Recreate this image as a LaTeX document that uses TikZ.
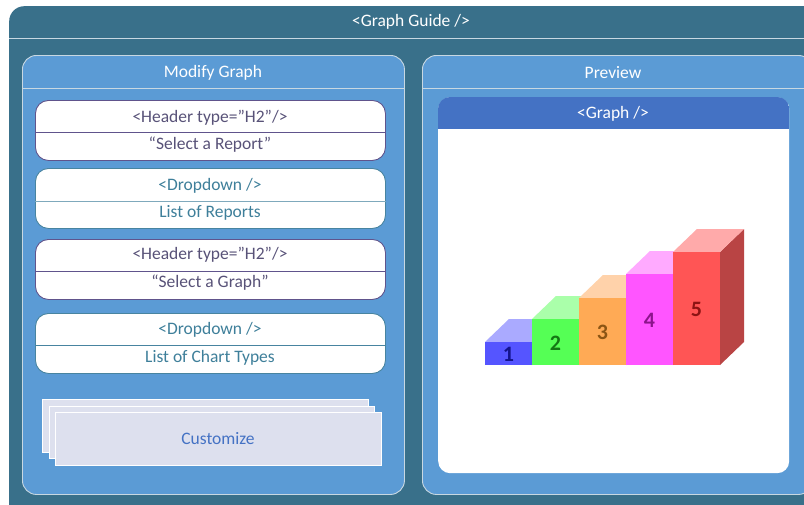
\documentclass[tikz,border=0pt]{standalone}
\usepackage{fontspec}
\setmainfont{Carlito}
\usepackage{tikz}
\usetikzlibrary{positioning,calc}
\definecolor{guideteal}{RGB}{57,112,138}
\definecolor{panelblue}{RGB}{91,155,213}
\definecolor{graphblue}{RGB}{68,114,196}
\definecolor{rulegray}{RGB}{200,216,226}
\definecolor{hdrpurple}{RGB}{96,84,140}
\definecolor{hdrtext}{RGB}{88,82,120}
\definecolor{ddteal}{RGB}{72,132,160}
\definecolor{ddtext}{RGB}{62,127,154}
\definecolor{custfill}{RGB}{221,224,238}
\definecolor{bluefront}{RGB}{85,85,255}
\definecolor{bluetop}{RGB}{170,170,255}
\definecolor{bluenum}{RGB}{20,20,140}
\definecolor{greenfront}{RGB}{85,255,85}
\definecolor{greentop}{RGB}{170,255,170}
\definecolor{greennum}{RGB}{20,120,20}
\definecolor{orangefront}{RGB}{255,170,85}
\definecolor{orangetop}{RGB}{255,210,170}
\definecolor{orangenum}{RGB}{140,85,20}
\definecolor{pinkfront}{RGB}{255,85,255}
\definecolor{pinktop}{RGB}{255,170,255}
\definecolor{pinknum}{RGB}{140,20,140}
\definecolor{redfront}{RGB}{255,85,85}
\definecolor{redtop}{RGB}{255,170,170}
\definecolor{redside}{RGB}{185,68,68}
\definecolor{rednum}{RGB}{140,20,20}

\tikzset{
  frame/.style={rectangle, rounded corners=15pt, fill=guideteal, inner sep=0pt, anchor=north west},
  panel/.style={rectangle, rounded corners=14pt, fill=panelblue, draw=rulegray, line width=0.9pt, inner sep=0pt, anchor=north west},
  headtext/.style={text=white, font=\fontsize{17.5}{20}\selectfont, inner sep=0pt, yshift=-1pt},
  widget/.style={rectangle, rounded corners=13pt, fill=white, line width=0.9pt, inner sep=0pt, minimum width=350, minimum height=60, anchor=north west},
  wtext/.style={font=\fontsize{17.5}{20}\selectfont, inner sep=0pt, yshift=-1pt},
  sheet/.style={rectangle, fill=custfill, draw=white, line width=0.8pt, inner sep=0pt, anchor=north west},
  barnum/.style={font=\fontsize{22}{25}\selectfont\bfseries, inner sep=0pt}
}

\begin{document}
\begin{tikzpicture}[x=1pt, y=-1pt]
    \useasboundingbox (0,0) rectangle (804,504);
    \clip (0,0) rectangle (804,504);
    \fill[white] (0,0) rectangle (804,504);

    % Outer frame and title bar
    \node[frame, minimum width=840, minimum height=540] (guide) at (9,6) {};
    \node[headtext] (guidetitle) at (411,21) {<Graph Guide />};
    \draw[rulegray, line width=0.9pt] (guide.west |- 0,38) -- (804,38);

    % Modify Graph panel
    \node[panel, minimum width=382, minimum height=439] (modify) at (22,55) {};
    \node[headtext] (modifytitle) at (213,72) {Modify Graph};
    \draw[rulegray, line width=0.9pt] (modify.west |- 0,88) -- (modify.east |- 0,88);

    % Preview panel
    \node[panel, minimum width=390, minimum height=439] (preview) at (422,55) {};
    \node[headtext] (previewtitle) at (613,72) {Preview};
    \draw[rulegray, line width=0.9pt] (preview.west |- 0,88) -- (804,88);

    % Widgets
    \node[widget, draw=hdrpurple] (hdrreport) at (35,100) {};
    \draw[hdrpurple, line width=0.9pt] (hdrreport.west |- 0,132) -- (hdrreport.east |- 0,132);
    \node[wtext, text=hdrtext] (hdrreporttop) at (210,117) {<Header type=”H2"/>};
    \node[wtext, text=hdrtext] (hdrreportbot) at (210,144) {“Select a Report”};

    \node[widget, draw=ddteal] (ddreport) at (35,168) {};
    \draw[ddteal!70, line width=0.9pt] (ddreport.west |- 0,201) -- (ddreport.east |- 0,201);
    \node[wtext, text=ddtext] (ddreporttop) at (210,185) {<Dropdown />};
    \node[wtext, text=ddtext] (ddreportbot) at (210,212) {List of Reports};

    \node[widget, draw=hdrpurple] (hdrgraph) at (35,239) {};
    \draw[hdrpurple, line width=0.9pt] (hdrgraph.west |- 0,271) -- (hdrgraph.east |- 0,271);
    \node[wtext, text=hdrtext] (hdrgraphtop) at (210,254) {<Header type=”H2"/>};
    \node[wtext, text=hdrtext] (hdrgraphbot) at (210,282) {“Select a Graph”};

    \node[widget, draw=ddteal] (ddchart) at (35,313) {};
    \draw[ddteal, line width=0.9pt] (ddchart.west |- 0,345) -- (ddchart.east |- 0,345);
    \node[wtext, text=ddtext] (ddcharttop) at (210,329) {<Dropdown />};
    \node[wtext, text=ddtext] (ddchartbot) at (210,357) {List of Chart Types};

    % Customize stack
    \node[sheet, minimum width=326, minimum height=53] (custback) at (42,399) {};
    \node[sheet, minimum width=325, minimum height=52] (custmid) at (49,406) {};
    \node[sheet, minimum width=326, minimum height=53] (custfront) at (55,412) {};
    \node[wtext, text=graphblue] (custlabel) at (218,438) {Customize};

    % Graph preview
    \node[rectangle, rounded corners=12pt, fill=white, inner sep=0pt, anchor=north west,
          minimum width=351, minimum height=376] (graph) at (438,97) {};
    \begin{scope}
        \clip[rounded corners=12pt] (graph.south west) rectangle (graph.north east);
        \fill[graphblue] (graph.north west) rectangle (graph.east |- 0,129);
    \end{scope}
    \node[headtext] (graphtitle) at (613,113) {<Graph />};

    % 3D bars
    \foreach \n/\x/\t/\fc/\tc/\lc in {1/485/342/bluefront/bluetop/bluenum,
                                      2/532/319/greenfront/greentop/greennum,
                                      3/579/298/orangefront/orangetop/orangenum,
                                      4/626/274/pinkfront/pinktop/pinknum,
                                      5/673/252/redfront/redtop/rednum} {
        \fill[redside] (\x+47,\t) -- ++(24,-23) -- ++(0,{365-\t}) -- ++(-24,23) -- cycle;
        \fill[\tc] (\x,\t) -- ++(47,0) -- ++(24,-23) -- ++(-47,0) -- cycle;
        \fill[\fc] (\x,\t) rectangle (\x+47,365);
        \node[barnum, text=\lc] (num\n) at ({\x+23.5},{(\t+365)/2+1}) {\n};
    }
\end{tikzpicture}
\end{document}
